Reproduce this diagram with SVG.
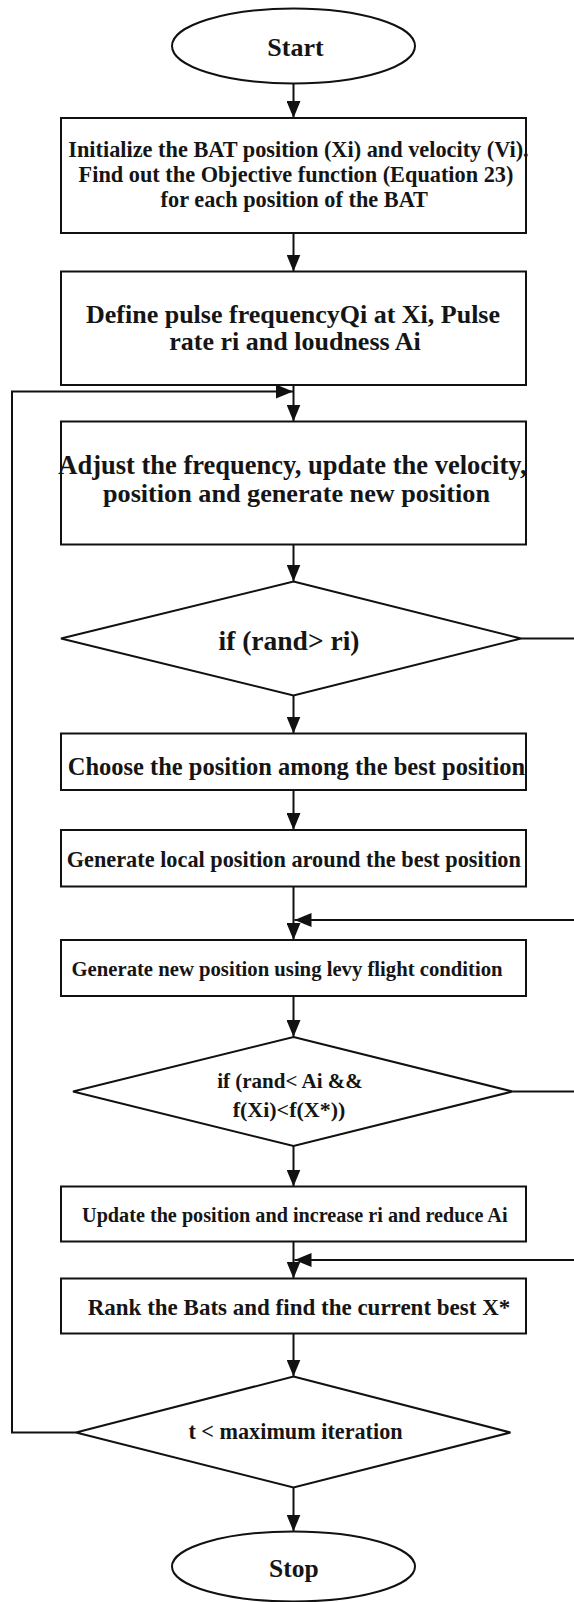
<svg xmlns="http://www.w3.org/2000/svg" width="574" height="1602" viewBox="0 0 574 1602">
<style>
  .shape { fill: #ffffff; stroke: #111111; stroke-width: 2; }
  .conn { fill: none; stroke: #111111; stroke-width: 2; }
  .t { font-family: "Liberation Serif", "Times New Roman", serif; font-weight: bold; fill: #151515; text-anchor: middle; }
</style>
<defs>
  <marker id="arrow" markerUnits="userSpaceOnUse" markerWidth="18" markerHeight="14" refX="17" refY="7" orient="auto">
    <path d="M0,0 L17,7 L0,14 z" fill="#111111"/>
  </marker>
</defs>
<rect x="0" y="0" width="574" height="1602" fill="#ffffff"/>

<g id="connectors">
  <line class="conn" x1="293.5" y1="83.5" x2="293.5" y2="118" marker-end="url(#arrow)"/>
  <line class="conn" x1="293.5" y1="233" x2="293.5" y2="271.5" marker-end="url(#arrow)"/>
  <line class="conn" x1="293.5" y1="385" x2="293.5" y2="421.5" marker-end="url(#arrow)"/>
  <line class="conn" x1="293.5" y1="544.5" x2="293.5" y2="581.5" marker-end="url(#arrow)"/>
  <line class="conn" x1="293.5" y1="695.5" x2="293.5" y2="733.5" marker-end="url(#arrow)"/>
  <line class="conn" x1="293.5" y1="790" x2="293.5" y2="830" marker-end="url(#arrow)"/>
  <line class="conn" x1="293.5" y1="886.5" x2="293.5" y2="940" marker-end="url(#arrow)"/>
  <line class="conn" x1="293.5" y1="996" x2="293.5" y2="1037" marker-end="url(#arrow)"/>
  <line class="conn" x1="293.5" y1="1146" x2="293.5" y2="1186.5" marker-end="url(#arrow)"/>
  <line class="conn" x1="293.5" y1="1241.5" x2="293.5" y2="1278.5" marker-end="url(#arrow)"/>
  <line class="conn" x1="293.5" y1="1333.5" x2="293.5" y2="1376.5" marker-end="url(#arrow)"/>
  <line class="conn" x1="293.5" y1="1487.5" x2="293.5" y2="1531.5" marker-end="url(#arrow)"/>
  <!-- right-side bypass connectors (vertical part lies beyond the picture edge) -->
  <path class="conn" d="M521,638.5 H590 V920 H294.5" marker-end="url(#arrow)"/>
  <path class="conn" d="M512.5,1091.5 H590 V1260 H294.5" marker-end="url(#arrow)"/>
  <!-- loop back -->
  <path class="conn" d="M76,1432.5 H12 V391.5 H293" marker-end="url(#arrow)"/>
</g>

<g id="start">
  <ellipse class="shape" cx="293.5" cy="46" rx="121.5" ry="37.5"/>
  <text class="t" x="295.5" y="56" font-size="26">Start</text>
</g>

<g id="init">
  <rect class="shape" x="61" y="118" width="465" height="115"/>
  <text class="t" x="298.5" y="157.3" font-size="22.3">Initialize the BAT position (Xi) and velocity (Vi).</text>
  <text class="t" x="296" y="181.8" font-size="22.3">Find out the Objective function (Equation 23)</text>
  <text class="t" x="294.3" y="207.3" font-size="22.3">for each position of the BAT</text>
</g>

<g id="define">
  <rect class="shape" x="61" y="271.5" width="465" height="113.5"/>
  <text class="t" x="293" y="322.7" font-size="26">Define pulse frequencyQi at Xi, Pulse</text>
  <text class="t" x="295" y="350" font-size="26">rate ri and loudness Ai</text>
</g>

<g id="adjust">
  <rect class="shape" x="61" y="421.5" width="465" height="123"/>
  <text class="t" x="292.5" y="473.5" font-size="26.5">Adjust the frequency, update the velocity,</text>
  <text class="t" x="296.5" y="501.7" font-size="26.2">position and generate new position</text>
</g>

<g id="cond-rand-r">
  <polygon class="shape" points="293.5,581.5 521,638.5 293.5,695.5 61,638.5"/>
  <text class="t" x="289" y="650" font-size="27.5">if (rand&gt; ri)</text>
</g>

<g id="choose">
  <rect class="shape" x="61" y="733.5" width="465" height="56.5"/>
  <text class="t" x="296.4" y="775" font-size="24.5">Choose the position among the best position</text>
</g>

<g id="local">
  <rect class="shape" x="61" y="830" width="465" height="56.5"/>
  <text class="t" x="293.8" y="866.5" font-size="22.3">Generate local position around the best position</text>
</g>

<g id="levy">
  <rect class="shape" x="61" y="940" width="465" height="56"/>
  <text class="t" x="287" y="976" font-size="20.7">Generate new position using levy flight condition</text>
</g>

<g id="cond-rand-a">
  <polygon class="shape" points="293.5,1037 512.5,1091.5 293.5,1146 73,1091.5"/>
  <text class="t" x="290" y="1088.3" font-size="21">if (rand&lt; Ai &amp;&amp;</text>
  <text class="t" x="289" y="1116.7" font-size="22">f(Xi)&lt;f(X*))</text>
</g>

<g id="update">
  <rect class="shape" x="61" y="1186.5" width="465" height="55"/>
  <text class="t" x="294.8" y="1221.7" font-size="20.2">Update the position and increase ri and reduce Ai</text>
</g>

<g id="rank">
  <rect class="shape" x="61" y="1278.5" width="465" height="55"/>
  <text class="t" x="299" y="1315" font-size="23">Rank the Bats and find the current best X*</text>
</g>

<g id="cond-iter">
  <polygon class="shape" points="293.5,1376.5 510.5,1432.5 293.5,1487.5 76,1432.5"/>
  <text class="t" x="295.5" y="1439.3" font-size="22.2">t &lt; maximum iteration</text>
</g>

<g id="stop">
  <ellipse class="shape" cx="293.5" cy="1566.5" rx="121.5" ry="35"/>
  <text class="t" x="293.8" y="1576.7" font-size="25.5">Stop</text>
</g>
</svg>
